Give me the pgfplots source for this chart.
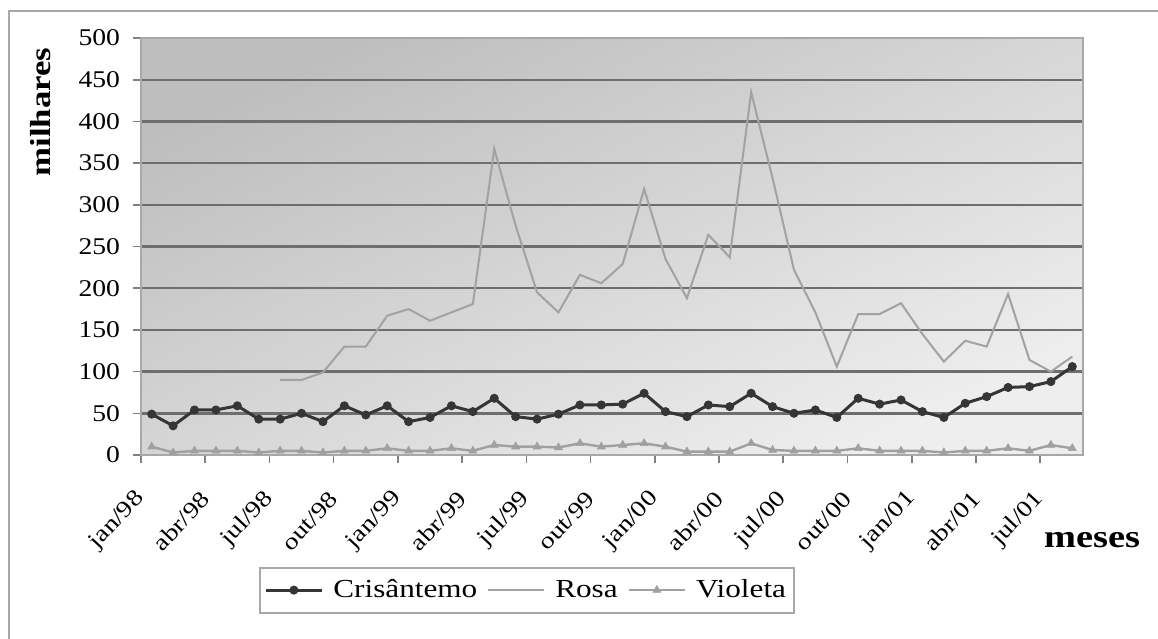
\documentclass[border=0pt]{standalone}
\usepackage{fontspec}
\setmainfont{Liberation Serif}[FakeStretch=1.2]
\newfontfamily\tickfont{Liberation Serif}[FakeStretch=1.15]
\newfontfamily\xtickfont{Liberation Serif}[FakeStretch=1.2]
\usepackage{pgfplots}
\pgfplotsset{compat=1.18}
\definecolor{crisc}{HTML}{353535}
\definecolor{rosac}{HTML}{A2A2A2}
\definecolor{violc}{HTML}{A0A0A0}
\definecolor{gridc}{HTML}{6E6E6E}
\definecolor{framec}{HTML}{A8A8A8}
\definecolor{bgtop}{HTML}{BEBEBE}
\definecolor{bgbot}{HTML}{EEEEEE}
\begin{document}
\begin{tikzpicture}
\useasboundingbox (0,0) rectangle (579pt,319pt);
% chart area frame (left and top sides visible)
\draw[framec, line width=1pt] (4.5pt,-2pt) -- (4.5pt,313.5pt) -- (582pt,313.5pt);
\begin{axis}[
  at={(70.5pt,91.5pt)}, anchor=south west,
  scale only axis, width=471pt, height=208.5pt,
  xmin=-0.5, xmax=43.5, ymin=0, ymax=500,
  axis background/.style={top color=bgtop, bottom color=bgbot, shading angle=25},
  axis line style={draw=framec, line width=1pt},
  ytick={0,50,...,500},
  ymajorgrids, grid style={draw=gridc, line width=1.2pt},
  tick align=outside, major tick length=4pt,
  xtick pos=bottom, ytick pos=left,
  tick style={draw=gray, line width=0.8pt},
  xtick={-0.5,2.5,...,41.5}, xticklabels={},
  extra x ticks={-0.49,2.51,5.51,8.51,11.51,14.51,17.51,20.51,23.51,26.51,29.51,32.51,35.51,38.51,41.51},
  extra x tick labels={jan/98,abr/98,jul/98,out/98,jan/99,abr/99,jul/99,out/99,jan/00,abr/00,jul/00,out/00,jan/01,abr/01,jul/01},
  extra x tick style={major tick length=0pt, grid=none, xticklabel shift=20pt,
    xticklabel style={rotate=47, anchor=east, inner sep=0pt, font=\xtickfont\fontsize{11.5}{13}\selectfont}},
  yticklabel style={font=\tickfont\fontsize{12}{14}\selectfont, xshift=-3pt},
  /pgf/number format/assume math mode=true,
  legend columns=3,
  legend style={at={(axis description cs:0.41,-0.324)}, anchor=center,
    draw=framec, line width=1pt, fill=white,
    font=\fontsize{13}{15}\selectfont,
    column sep=3pt, inner xsep=2pt, inner ysep=4pt},
  legend image code/.code={\draw[#1, mark repeat=2, mark phase=2] plot coordinates {(0pt,0pt) (14pt,0pt) (28pt,0pt)};},
  clip=false,
]
\addplot[color=crisc, line width=1.5pt, mark=*, mark size=2pt, mark options={fill=crisc, draw=crisc, line width=0.5pt}]
 coordinates {(0,49) (1,35) (2,54) (3,54) (4,59) (5,43) (6,43) (7,50) (8,40) (9,59) (10,48) (11,59) (12,40) (13,45) (14,59) (15,52) (16,68) (17,46) (18,43) (19,49) (20,60) (21,60) (22,61) (23,74) (24,52) (25,46) (26,60) (27,58) (28,74) (29,58) (30,50) (31,54) (32,45) (33,68) (34,61) (35,66) (36,52) (37,45) (38,62) (39,70) (40,81) (41,82) (42,88) (43,106)};
\addlegendentry{Crisântemo}
\addplot[color=rosac, line width=1pt, mark=none]
 coordinates {(6,90) (7,90) (8,99) (9,130) (10,130) (11,167) (12,175) (13,161) (14,171) (15,181) (16,367) (17,275) (18,195) (19,171) (20,216) (21,206) (22,229) (23,319) (24,235) (25,188) (26,264) (27,237) (28,435) (29,332) (30,222) (31,171) (32,106) (33,169) (34,169) (35,182) (36,145) (37,112) (38,137) (39,130) (40,193) (41,114) (42,100) (43,118)};
\addlegendentry{Rosa}
\addplot[color=violc, line width=1.2pt, mark=triangle*, mark size=2.3pt, mark options={fill=violc, draw=violc, line width=0.3pt}]
 coordinates {(0,10) (1,3) (2,5) (3,5) (4,5) (5,3) (6,5) (7,5) (8,3) (9,5) (10,5) (11,8) (12,5) (13,5) (14,8) (15,5) (16,12) (17,10) (18,10) (19,9) (20,14) (21,10) (22,12) (23,14) (24,10) (25,4) (26,4) (27,4) (28,14) (29,6) (30,5) (31,5) (32,5) (33,8) (34,5) (35,5) (36,5) (37,3) (38,5) (39,5) (40,8) (41,5) (42,12) (43,8)};
\addlegendentry{Violeta}
\node[rotate=90, font=\bfseries\fontsize{14.5}{17}\selectfont] at (axis description cs:-0.107,0.8225) {milhares};
\node[font=\bfseries\fontsize{16}{18}\selectfont, anchor=center] at (axis description cs:1.0096,-0.204) {meses};
\end{axis}
\end{tikzpicture}
\end{document}
